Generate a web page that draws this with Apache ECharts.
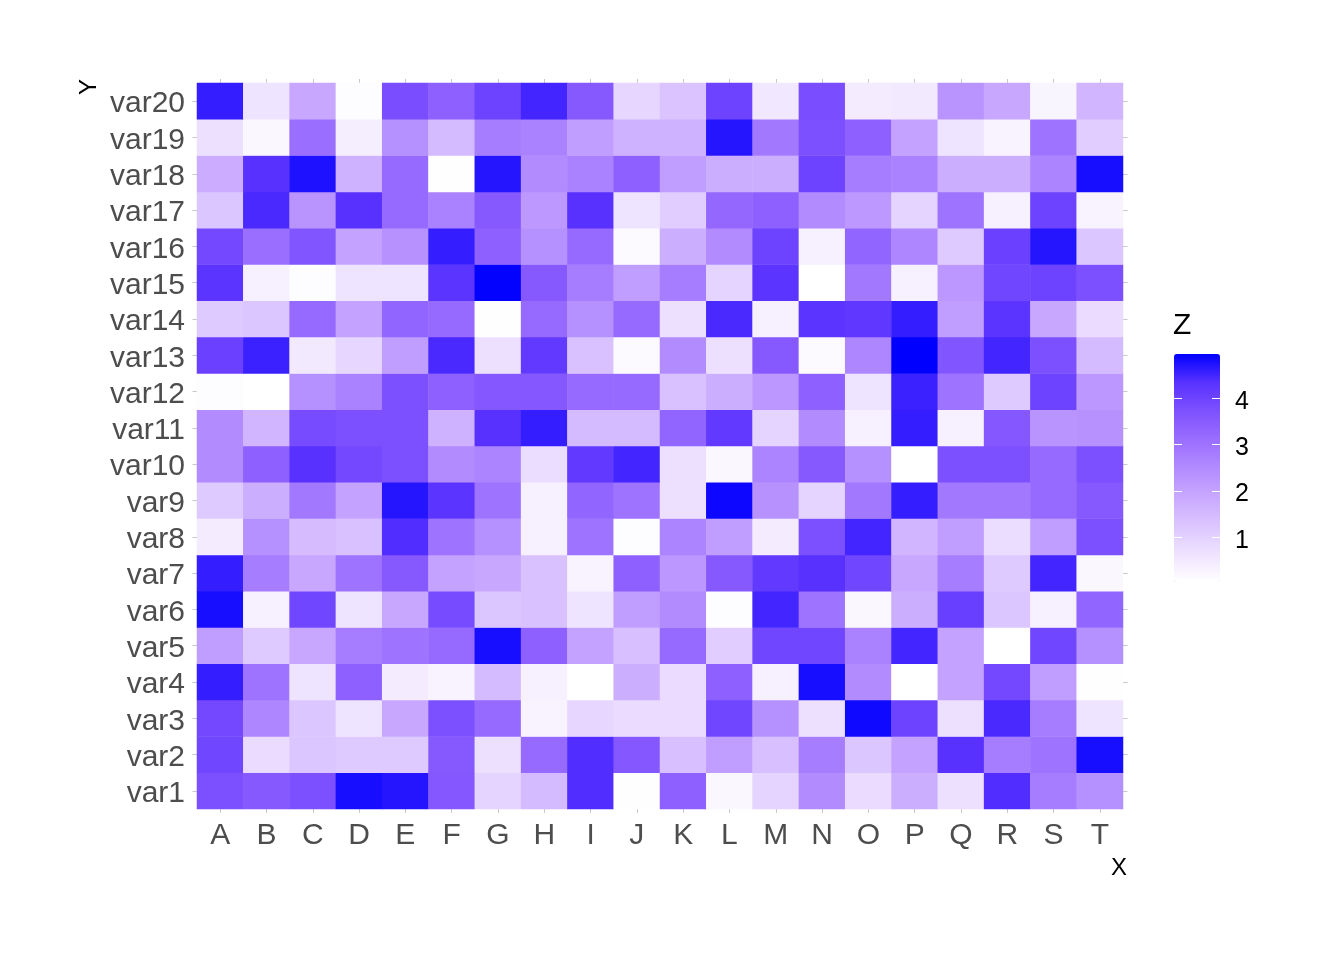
<!DOCTYPE html>
<html>
<head>
<meta charset="utf-8">
<script src="https://cdn.jsdelivr.net/npm/echarts@6/dist/echarts.min.js"></script>
<style>
html,body{margin:0;padding:0;background:#fff;}
#chart{width:1344px;height:960px;}
</style>
</head>
<body>
<div id="chart"></div>
<script>
// Categories
const xCategories = ['A','B','C','D','E','F','G','H','I','J','K','L','M','N','O','P','Q','R','S','T'];
const yCategories = ['var1','var2','var3','var4','var5','var6','var7','var8','var9','var10',
  'var11','var12','var13','var14','var15','var16','var17','var18','var19','var20'];
// Z values per row (columns A..T)
const var20 = [4.6,0.6,1.9,0.1,3.8,3.4,4.0,4.5,3.55,0.9,1.3,4.0,0.55,3.8,0.45,0.5,2.3,1.9,0.25,1.6];
const var19 = [0.7,0.2,3.1,0.4,2.4,1.5,2.8,2.7,2.1,1.7,1.7,4.7,2.9,3.75,3.4,2.0,0.6,0.3,3.0,1.1];
const var18 = [1.8,4.35,4.75,1.7,3.2,0.05,4.7,2.5,2.7,3.4,2.1,1.75,1.75,4.0,2.8,2.7,1.75,1.75,2.65,4.8];
const var17 = [1.25,4.45,2.3,4.35,3.2,2.7,3.55,2.2,4.35,0.6,1.1,3.25,3.4,2.5,2.2,0.95,3.0,0.35,4.0,0.3];
const var16 = [3.9,3.1,3.65,2.0,2.35,4.6,3.4,2.4,3.2,0.15,1.75,2.5,4.0,0.35,3.3,2.6,1.15,4.05,4.7,1.25];
const var15 = [4.3,0.35,0.1,0.6,0.6,4.3,4.93,3.55,2.8,2.1,2.8,0.95,4.3,0.04,2.9,0.35,2.25,3.95,4.0,3.75];
const var14 = [1.15,1.25,3.2,2.0,3.3,3.2,0.05,3.2,2.4,3.2,0.7,4.45,0.35,4.3,4.25,4.6,2.1,4.3,1.9,0.8];
const var13 = [4.05,4.55,0.5,0.9,2.1,4.45,0.7,4.2,1.35,0.15,2.5,0.7,3.55,0.15,2.6,4.96,3.65,4.5,3.75,1.5];
const var12 = [0.1,0.04,2.4,2.7,3.75,3.4,3.6,3.6,3.2,3.2,1.35,1.75,2.25,3.4,0.6,4.55,3.0,1.15,4.0,2.25];
const var11 = [2.5,1.6,3.85,3.75,3.75,1.7,4.35,4.6,1.5,1.5,3.3,4.2,0.95,2.5,0.35,4.6,0.35,3.6,2.3,2.35];
const var10 = [2.5,3.4,4.35,3.9,3.75,2.5,2.65,0.75,4.2,4.5,0.7,0.2,2.65,3.55,2.4,0.04,3.75,3.75,3.2,3.75];
const var9  = [1.15,1.75,2.9,2.0,4.7,4.3,3.0,0.35,3.3,3.0,0.7,4.87,2.35,0.95,2.9,4.6,2.9,2.9,3.2,3.55];
const var8  = [0.45,2.4,1.45,1.35,4.4,3.0,2.4,0.35,3.0,0.1,2.65,2.1,0.45,3.75,4.5,1.6,2.1,0.75,2.1,3.75];
const var7  = [4.6,2.8,1.9,3.0,3.55,2.0,1.9,1.35,0.3,3.4,2.25,3.55,4.2,4.35,3.95,1.9,2.8,1.15,4.5,0.2];
const var6  = [4.8,0.35,3.95,0.6,1.9,3.85,1.25,1.35,0.6,2.1,2.5,0.1,4.5,3.0,0.2,1.75,4.1,1.25,0.35,3.3];
const var5  = [2.1,1.15,1.9,2.8,3.0,3.2,4.8,3.4,2.0,1.4,3.2,1.1,3.95,3.95,2.7,4.5,2.0,0.04,3.95,2.4];
const var4  = [4.6,3.0,0.6,3.4,0.45,0.3,1.5,0.35,0.04,1.75,0.8,3.4,0.35,4.8,2.5,0.04,2.0,3.9,2.1,0.08];
const var3  = [3.9,2.6,1.25,0.6,1.9,3.75,3.2,0.3,0.9,0.8,0.8,3.95,2.4,0.7,4.85,4.0,0.7,4.45,2.8,0.6];
const var2  = [3.95,0.8,1.25,1.15,1.15,3.55,0.7,3.2,4.4,3.6,1.4,2.1,1.4,2.8,1.25,2.0,4.35,2.8,3.0,4.8];
const var1  = [3.75,3.55,3.75,4.8,4.7,3.6,0.95,1.5,4.4,0.05,3.4,0.2,0.95,2.5,0.8,1.75,0.7,4.4,2.8,2.4];
const zRows = [var1,var2,var3,var4,var5,var6,var7,var8,var9,var10,var11,var12,var13,var14,var15,var16,var17,var18,var19,var20];
// Colour scale range and legend ticks
const zMin = 0.035;
const zMax = 4.957;
const legendTicks = [1,2,3,4];

const heatData = [];
zRows.forEach((row, yi) => row.forEach((v, xi) => heatData.push([xi, yi, v])));

const FONT = '"Liberation Sans", Arial, sans-serif';
const tickStyle = {color: '#c8c8c8', width: 1};

const chart = echarts.init(document.getElementById('chart'), null, {renderer: 'canvas'});
chart.setOption({
  backgroundColor: '#ffffff',
  animation: false,
  grid: [
    {left: 197, top: 83, width: 926, height: 726},
    {left: 1174, top: 352, width: 46, height: 231.6}
  ],
  xAxis: [
    {type: 'category', data: xCategories, gridIndex: 0, position: 'bottom',
     axisLine: {show: false},
     axisTick: {show: true, alignWithLabel: true, length: 4, lineStyle: tickStyle},
     axisLabel: {interval: 0, fontSize: 30, color: '#4d4d4d', fontFamily: FONT, margin: 12},
     splitLine: {show: false}},
    {type: 'category', data: xCategories, gridIndex: 0, position: 'top',
     axisLine: {show: false},
     axisTick: {show: true, alignWithLabel: true, length: 4, lineStyle: tickStyle},
     axisLabel: {show: false}, splitLine: {show: false}},
    {type: 'value', gridIndex: 1, show: false, min: 0, max: 1}
  ],
  yAxis: [
    {type: 'category', data: yCategories, gridIndex: 0, position: 'left',
     axisLine: {show: false},
     axisTick: {show: true, alignWithLabel: true, length: 4.5, lineStyle: tickStyle},
     axisLabel: {interval: 0, margin: 12,
       formatter: v => '{t|' + v + '}',
       rich: {t: {fontSize: 30, color: '#4d4d4d', fontFamily: FONT, padding: [6, 0, 0, 0]}}},
     splitLine: {show: false}},
    {type: 'category', data: yCategories, gridIndex: 0, position: 'right',
     axisLine: {show: false},
     axisTick: {show: true, alignWithLabel: true, length: 4.5, lineStyle: tickStyle},
     axisLabel: {show: false}, splitLine: {show: false}},
    {type: 'value', gridIndex: 1, position: 'left', min: 0, max: 5, interval: 1, z: 10,
     axisLine: {show: false}, splitLine: {show: false},
     axisTick: {show: true, inside: true, length: 8, lineStyle: {color: '#ffffff', width: 1}},
     axisLabel: {show: false}},
    {type: 'value', gridIndex: 1, position: 'right', min: 0, max: 5, interval: 1, z: 10,
     axisLine: {show: false}, splitLine: {show: false},
     axisTick: {show: true, inside: true, length: 8, lineStyle: {color: '#ffffff', width: 1}},
     axisLabel: {show: true, inside: false, margin: 15,
       showMinLabel: false, showMaxLabel: false,
       formatter: v => legendTicks.indexOf(v) >= 0 ? '{t|' + v + '}' : '',
       rich: {t: {fontSize: 25, color: '#000000', fontFamily: FONT, padding: [7, 0, 0, 0]}}}}
  ],
  visualMap: {
    type: 'continuous', seriesIndex: 0, min: zMin, max: zMax,
    calculable: false, orient: 'vertical', left: 1174, top: 354,
    itemWidth: 46, itemHeight: 228, padding: 0, text: null, showLabel: false,
    inRange: {color: ['#ffffff','#eee2ff','#dcc5ff','#c8a8ff','#b28bff','#9a6eff','#7e51ff','#5932ff','#0000ff']}
  },
  series: [{
    type: 'heatmap', xAxisIndex: 0, yAxisIndex: 0, data: heatData,
    itemStyle: {borderWidth: 0},
    emphasis: {disabled: true}
  }],
  graphic: [
    {type: 'text', x: 1119, y: 868, style: {text: 'X', font: '24px ' + FONT, fill: '#000', align: 'center', verticalAlign: 'middle'}},
    {type: 'text', x: 89.5, y: 87, rotation: Math.PI / 2, style: {text: 'Y', font: '24px ' + FONT, fill: '#000', align: 'center', verticalAlign: 'middle'}},
    {type: 'text', x: 1173, y: 326, style: {text: 'Z', font: '30px ' + FONT, fill: '#000', align: 'left', verticalAlign: 'middle'}}
  ]
});
</script>
</body>
</html>
